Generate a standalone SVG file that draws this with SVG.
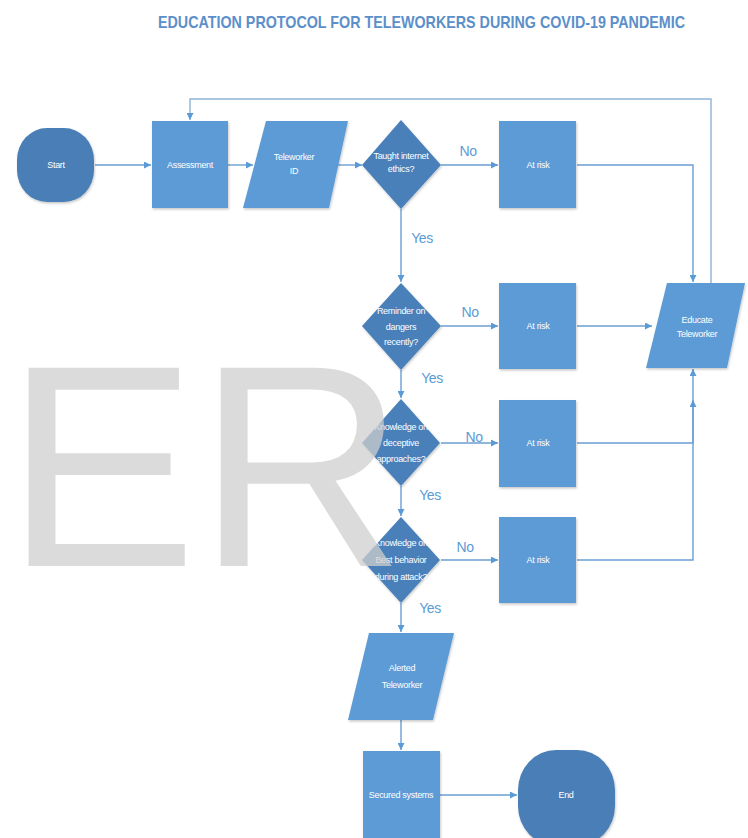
<svg xmlns="http://www.w3.org/2000/svg" width="748" height="838" viewBox="0 0 748 838">
  <defs>
    <style>
      .title { font-family: "Liberation Sans", Arial, sans-serif; font-weight: bold; font-size: 17px; fill: #5b8fc9; }
      .proc { fill: #5b9bd5; filter: url(#shadow); }
      .dec { fill: #4a80ba; filter: url(#shadow); }
      .term { fill: #4a7fb6; filter: url(#shadow); }
      .lbl { font-family: "Liberation Sans", Arial, sans-serif; font-size: 9px; fill: #ffffff; text-anchor: middle; dominant-baseline: central; letter-spacing: -0.3px; }
      .yn { font-family: "Liberation Sans", Arial, sans-serif; font-size: 14px; fill: #5b9bd5; text-anchor: middle; dominant-baseline: central; letter-spacing: -0.4px; }
      .wire { fill: none; stroke: #6a9fd3; stroke-width: 1.4; }
      .wire-light { fill: none; stroke: #8fb2d6; stroke-width: 1.4; }
      .mark { font-family: "Liberation Sans", Arial, sans-serif; font-size: 288px; fill: #cfcfcf; opacity: 0.75; }
    </style>
    <filter id="shadow" x="-10%" y="-10%" width="130%" height="130%">
      <feDropShadow dx="0.8" dy="1.5" stdDeviation="1.2" flood-color="#000000" flood-opacity="0.22"/>
    </filter>
    <marker id="arrow" viewBox="0 0 10 10" refX="10" refY="5" markerWidth="7" markerHeight="7" markerUnits="userSpaceOnUse" orient="auto">
      <path d="M0,0 L10,5 L0,10 z" fill="#5b9bd5"/>
    </marker>
  </defs>

  <rect width="748" height="838" fill="#ffffff"/>

  <text class="title" x="158" y="28" textLength="527" lengthAdjust="spacingAndGlyphs">EDUCATION PROTOCOL FOR TELEWORKERS DURING COVID-19 PANDEMIC</text>

  <!-- connectors -->
  <g id="connectors">
    <path class="wire-light" d="M711,283 V99 H190 V120" marker-end="url(#arrow)"/>
    <path class="wire" d="M95,165 H151" marker-end="url(#arrow)"/>
    <path class="wire" d="M228,165 H253" marker-end="url(#arrow)"/>
    <path class="wire" d="M338,165 H362" marker-end="url(#arrow)"/>
    <path class="wire" d="M441,165 H498" marker-end="url(#arrow)"/>
    <path class="wire" d="M577,165 H693 V282" marker-end="url(#arrow)"/>
    <path class="wire" d="M401,209 V282" marker-end="url(#arrow)"/>
    <path class="wire" d="M441,326 H498" marker-end="url(#arrow)"/>
    <path class="wire" d="M577,326 H652" marker-end="url(#arrow)"/>
    <path class="wire" d="M401,370 V398" marker-end="url(#arrow)"/>
    <path class="wire" d="M441,443 H498" marker-end="url(#arrow)"/>
    <path class="wire" d="M577,443 H693 V369" marker-end="url(#arrow)"/>
    <path class="wire" d="M401,486 V516" marker-end="url(#arrow)"/>
    <path class="wire" d="M441,560 H498" marker-end="url(#arrow)"/>
    <path class="wire" d="M577,560 H693 V400" marker-end="url(#arrow)"/>
    <path class="wire" d="M401,603 V632" marker-end="url(#arrow)"/>
    <path class="wire" d="M401,720 V750" marker-end="url(#arrow)"/>
    <path class="wire" d="M440,795 H517" marker-end="url(#arrow)"/>

    <text class="yn" x="468" y="151">No</text>
    <text class="yn" x="422" y="238">Yes</text>
    <text class="yn" x="470" y="312">No</text>
    <text class="yn" x="432" y="378">Yes</text>
    <text class="yn" x="474" y="437">No</text>
    <text class="yn" x="430" y="495">Yes</text>
    <text class="yn" x="465" y="547">No</text>
    <text class="yn" x="430" y="608">Yes</text>
  </g>

  <!-- nodes -->
  <g id="start">
    <rect class="term" x="17" y="128" width="77" height="74" rx="30" ry="32"/>
    <text class="lbl" x="56" y="165">Start</text>
  </g>

  <g id="assessment">
    <rect class="proc" x="152" y="121" width="76" height="87"/>
    <text class="lbl" x="190" y="165">Assessment</text>
  </g>

  <g id="teleworker-id">
    <polygon class="proc" points="266,121 348,121 329,208 243,208"/>
    <text class="lbl" x="294" y="157">Teleworker</text>
    <text class="lbl" x="294" y="171">ID</text>
  </g>

  <g id="q-ethics">
    <polygon class="dec" points="401,120 441,165 401,209 362,165"/>
    <text class="lbl" x="401" y="156">Taught internet</text>
    <text class="lbl" x="401" y="169">ethics?</text>
  </g>

  <g id="risk-1">
    <rect class="proc" x="499" y="121" width="77" height="87"/>
    <text class="lbl" x="538" y="165">At risk</text>
  </g>

  <g id="q-reminder">
    <polygon class="dec" points="401,283 441,326 401,370 362,326"/>
    <text class="lbl" x="401" y="311">Reminder on</text>
    <text class="lbl" x="401" y="327">dangers</text>
    <text class="lbl" x="401" y="342">recently?</text>
  </g>

  <g id="risk-2">
    <rect class="proc" x="499" y="283" width="77" height="86"/>
    <text class="lbl" x="538" y="326">At risk</text>
  </g>

  <g id="educate">
    <polygon class="proc" points="667,283 745,283 727,368 646,368"/>
    <text class="lbl" x="697" y="320">Educate</text>
    <text class="lbl" x="697" y="334">Teleworker</text>
  </g>

  <g id="q-deceptive">
    <polygon class="dec" points="401,399 440,443 401,486 362,443"/>
    <text class="lbl" x="401" y="427">Knowledge on</text>
    <text class="lbl" x="401" y="443">deceptive</text>
    <text class="lbl" x="401" y="459">approaches?</text>
  </g>

  <g id="risk-3">
    <rect class="proc" x="499" y="400" width="77" height="87"/>
    <text class="lbl" x="538" y="443">At risk</text>
  </g>

  <g id="q-behavior">
    <polygon class="dec" points="401,517 440,560 401,603 362,560"/>
    <text class="lbl" x="401" y="543">Knowledge on</text>
    <text class="lbl" x="401" y="560">Best behavior</text>
    <text class="lbl" x="401" y="577">during attack?</text>
  </g>

  <g id="risk-4">
    <rect class="proc" x="499" y="517" width="77" height="86"/>
    <text class="lbl" x="538" y="560">At risk</text>
  </g>

  <g id="alerted">
    <polygon class="proc" points="369,633 454,633 433,720 348,720"/>
    <text class="lbl" x="402" y="668">Alerted</text>
    <text class="lbl" x="402" y="685">Teleworker</text>
  </g>

  <g id="secured">
    <rect class="proc" x="363" y="751" width="77" height="92"/>
    <text class="lbl" x="401" y="795">Secured systems</text>
  </g>

  <g id="end">
    <rect class="term" x="518" y="750" width="97" height="96" rx="38" ry="40"/>
    <text class="lbl" x="566" y="795">End</text>
  </g>

  <!-- watermark lettering -->
  <text class="mark" x="5" y="566">ER</text>
</svg>
